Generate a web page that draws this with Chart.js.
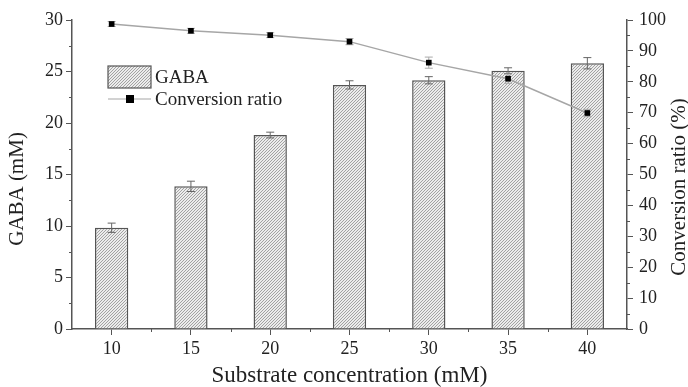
<!DOCTYPE html>
<html>
<head>
<meta charset="utf-8">
<script src="https://cdn.jsdelivr.net/npm/chart.js@4.4.1/dist/chart.umd.min.js"></script>
<style>
  html, body { margin: 0; padding: 0; background: #fff; }
  #wrap { width: 688px; height: 387px; }
</style>
</head>
<body>
<div id="wrap"><canvas id="chart" width="688" height="387"></canvas></div>
<script>
// data
var concentrations = ['10', '15', '20', '25', '30', '35', '40'];
var gabaValues = [9.83, 13.85, 18.83, 23.7, 24.15, 25.08, 25.8];
var gabaErrors = [0.45, 0.5, 0.28, 0.4, 0.35, 0.28, 0.55];
var ratioValues = [98.7, 96.5, 95.1, 93.0, 86.2, 81.0, 69.9];
var ratioErrors = [0.8, 0.8, 0.8, 1.0, 1.8, 1.5, 1.2];
var gabaTicks = [0, 5, 10, 15, 20, 25, 30];
var ratioTicks = [0, 10, 20, 30, 40, 50, 60, 70, 80, 90, 100];

var xTitle = 'Substrate concentration (mM)';
var yTitle = 'GABA (mM)';
var y1Title = 'Conversion ratio (%)';

var serif = '"Liberation Serif", "DejaVu Serif", serif';
var axisColor = '#555';
var textColor = '#222';

function makeHatch() {
    var c = document.createElement('canvas');
    c.width = 3;
    c.height = 3;
    var g = c.getContext('2d');
    g.fillStyle = '#ececec';
    g.fillRect(0, 0, 3, 3);
    g.strokeStyle = '#9a9a9a';
    g.lineWidth = 0.9;
    g.beginPath();
    g.moveTo(0, 3); g.lineTo(3, 0);
    g.moveTo(-1, 1); g.lineTo(1, -1);
    g.moveTo(2, 4); g.lineTo(4, 2);
    g.stroke();
    return g.createPattern(c, 'repeat');
}
var hatch = makeHatch();

function drawErrors(chart, di) {
    var ds = chart.data.datasets[di];
    if (!ds.errors) return;
    var ctx = chart.ctx;
    var meta = chart.getDatasetMeta(di);
    var scale = chart.scales[meta.yAxisID];
    ctx.save();
    ctx.strokeStyle = ds.errorColor;
    ctx.lineWidth = 1;
    meta.data.forEach(function(el, i) {
        var v = ds.data[i], e = ds.errors[i];
        var yTop = scale.getPixelForValue(v + e);
        var yBot = scale.getPixelForValue(v - e);
        ctx.beginPath();
        ctx.moveTo(el.x, yTop); ctx.lineTo(el.x, yBot);
        ctx.moveTo(el.x - 4, yTop); ctx.lineTo(el.x + 4, yTop);
        ctx.moveTo(el.x - 4, yBot); ctx.lineTo(el.x + 4, yBot);
        ctx.stroke();
    });
    ctx.restore();
}

// bar errors go on top of the bars, line errors go under the markers
var errorBars = {
    id: 'errorBars',
    afterDatasetDraw: function(chart, args) {
        if (chart.data.datasets[args.index].type === 'bar') drawErrors(chart, args.index);
    },
    beforeDatasetDraw: function(chart, args) {
        if (chart.data.datasets[args.index].type === 'line') drawErrors(chart, args.index);
    }
};

// minor ticks, axis titles and the legend inside the plot
var extras = {
    id: 'extras',
    afterDraw: function(chart) {
        var ctx = chart.ctx;
        var x = chart.scales.x, y = chart.scales.y, y1 = chart.scales.y1;
        ctx.save();
        ctx.strokeStyle = axisColor;
        ctx.lineWidth = 1;
        ctx.beginPath();
        var v, p;
        for (v = 2.5; v < 30; v += 5) {
            p = Math.round(y.getPixelForValue(v)) + 0.5;
            ctx.moveTo(y.right, p); ctx.lineTo(y.right - 3, p);
        }
        for (v = 5; v < 100; v += 10) {
            p = Math.round(y1.getPixelForValue(v)) + 0.5;
            ctx.moveTo(y1.left, p); ctx.lineTo(y1.left + 3, p);
        }
        for (var i = 0; i < concentrations.length - 1; i++) {
            p = Math.round((x.getPixelForValue(i) + x.getPixelForValue(i + 1)) / 2) + 0.5;
            ctx.moveTo(p, x.top); ctx.lineTo(p, x.top + 3);
        }
        ctx.stroke();

        // axis titles
        var area = chart.chartArea;
        ctx.fillStyle = textColor;
        ctx.textAlign = 'center';
        ctx.textBaseline = 'middle';
        ctx.font = '23px ' + serif;
        ctx.fillText(xTitle, (area.left + area.right) / 2, 376);
        ctx.font = '21px ' + serif;
        ctx.save();
        ctx.translate(17, 189);
        ctx.rotate(-Math.PI / 2);
        ctx.fillText(yTitle, 0, 0);
        ctx.restore();
        ctx.save();
        ctx.translate(679, 187);
        ctx.rotate(-Math.PI / 2);
        ctx.fillText(y1Title, 0, 0);
        ctx.restore();

        // legend
        var ds0 = chart.data.datasets[0], ds1 = chart.data.datasets[1];
        var lx = area.left + 36, ly = area.top + 46;
        ctx.fillStyle = ds0.backgroundColor;
        ctx.fillRect(lx, ly, 43, 22);
        ctx.strokeStyle = ds0.borderColor;
        ctx.lineWidth = 1.2;
        ctx.strokeRect(lx, ly, 43, 22);
        ctx.strokeStyle = ds1.borderColor;
        ctx.beginPath();
        ctx.moveTo(lx, ly + 33); ctx.lineTo(lx + 43, ly + 33);
        ctx.stroke();
        ctx.fillStyle = '#000';
        ctx.fillRect(lx + 18, ly + 29, 8, 8);
        ctx.fillStyle = textColor;
        ctx.font = '19px ' + serif;
        ctx.textAlign = 'left';
        ctx.fillText(ds0.label, lx + 47, ly + 12);
        ctx.fillText(ds1.label, lx + 47, ly + 34);
        ctx.restore();
    }
};

new Chart(document.getElementById('chart'), {
    data: {
        labels: concentrations,
        datasets: [{
            type: 'bar',
            label: 'GABA',
            data: gabaValues,
            errors: gabaErrors,
            errorColor: '#666',
            yAxisID: 'y',
            backgroundColor: hatch,
            borderColor: '#555',
            borderWidth: 1.5,
            categoryPercentage: 1,
            barPercentage: 0.42,
            order: 2
        }, {
            type: 'line',
            label: 'Conversion ratio',
            data: ratioValues,
            errors: ratioErrors,
            errorColor: '#aaa',
            yAxisID: 'y1',
            borderColor: '#a6a6a6',
            borderWidth: 1.5,
            pointStyle: 'rect',
            pointRadius: 4,
            pointBackgroundColor: '#000',
            pointBorderColor: '#000',
            pointBorderWidth: 0,
            order: 1
        }]
    },
    options: {
        responsive: false,
        animation: false,
        layout: { padding: { top: 20, left: 0, right: 0, bottom: 0 } },
        plugins: { legend: { display: false }, tooltip: { enabled: false } },
        scales: {
            x: {
                type: 'category',
                offset: true,
                grid: { offset: false, drawOnChartArea: false, tickLength: 6, color: axisColor, lineWidth: 1 },
                border: { color: axisColor, width: 1.5 },
                ticks: { color: textColor, font: { family: serif, size: 18 }, padding: 3, maxRotation: 0 },
                afterFit: function(s) { s.height = 58; }
            },
            y: {
                position: 'left',
                min: 0, max: 30,
                afterBuildTicks: function(s) { s.ticks = gabaTicks.map(function(v) { return { value: v }; }); },
                grid: { drawOnChartArea: false, tickLength: 6, color: axisColor, lineWidth: 1 },
                border: { color: axisColor, width: 1.5 },
                ticks: { color: textColor, font: { family: serif, size: 18 }, padding: 3 },
                afterFit: function(s) { s.width = 72; }
            },
            y1: {
                position: 'right',
                min: 0, max: 100,
                afterBuildTicks: function(s) { s.ticks = ratioTicks.map(function(v) { return { value: v }; }); },
                grid: { drawOnChartArea: false, tickLength: 6, color: axisColor, lineWidth: 1 },
                border: { color: axisColor, width: 1.5 },
                ticks: { color: textColor, font: { family: serif, size: 18 }, padding: 6 },
                afterFit: function(s) { s.width = 61; }
            }
        }
    },
    plugins: [errorBars, extras]
});
</script>
</body>
</html>
